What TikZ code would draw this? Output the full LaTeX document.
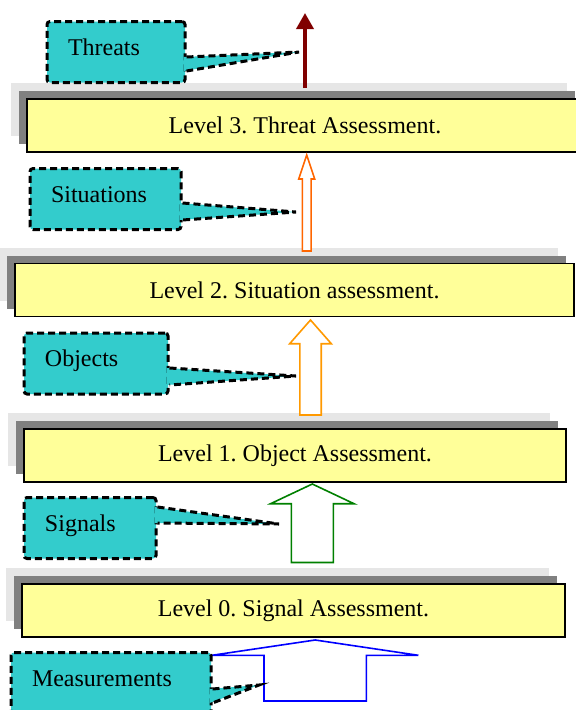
\documentclass[tikz,border=0pt]{standalone}
\usepackage{fontspec}
\setmainfont{Liberation Serif}
\usetikzlibrary{arrows.meta,calc,shadows}
\frenchspacing

\definecolor{barfill}{HTML}{FFFF99}
\definecolor{shadedark}{HTML}{808080}
\definecolor{shadelight}{HTML}{E6E6E6}
\definecolor{callfill}{HTML}{33CCCC}
\definecolor{darkred}{HTML}{800000}
\definecolor{redorange}{HTML}{FF6600}
\definecolor{orange}{HTML}{FF9900}
\definecolor{darkgreen}{HTML}{008000}

\tikzset{
  levelbox/.style={draw, line width=1.5pt, fill=barfill, inner sep=0pt,
    minimum height=53pt, font=\fontsize{24}{28}\selectfont,
    general shadow={fill=shadelight, shadow xshift=-16pt, shadow yshift=16pt},
    general shadow={fill=shadedark, shadow xshift=-8pt, shadow yshift=8pt}},
  callbox/.style={draw, fill=callfill, line width=3pt, dash pattern=on 7pt off 4pt,
    rounded corners=3pt, align=left, inner xsep=21pt, inner ysep=0pt,
    minimum height=61pt, text height=17pt, text depth=11pt,
    font=\fontsize{24}{28}\selectfont},
  callline/.style={line width=3pt, dash pattern=on 7pt off 4pt},
  hollow/.style={line width=1.6pt, fill=white}
}

% #1 colour, #2 tail, #3 tip, #4 half shaft, #5 half head, #6 head length
\newcommand\blockarrow[6]{%
  \draw[hollow,draw=#1] let \p1=(#2), \p2=(#3) in
    (\x1-#4,\y1) -- (\x1-#4,\y2-#6) -- (\x1-#5,\y2-#6) -- (\x2,\y2)
    -- (\x1+#5,\y2-#6) -- (\x1+#4,\y2-#6) -- (\x1+#4,\y1) -- cycle;}

\begin{document}
\begin{tikzpicture}[x=1pt,y=-1pt]
\useasboundingbox (0,0) rectangle (576,710);
\clip (0,0) rectangle (576,710);

% levels
\node[levelbox, minimum width=556pt] (lvl3) at (305,125.5) {Level 3. Threat Assessment.};
\node[levelbox, minimum width=559pt] (lvl2) at (294.5,290) {Level 2. Situation assessment.};
\node[levelbox, minimum width=542pt] (lvl1) at (295,455.5) {Level 1. Object Assessment.};
\node[levelbox, minimum width=543pt] (lvl0) at (293.5,610.5) {Level 0. Signal Assessment.};

% arrows between levels
\coordinate (tail4) at (305,88);  \coordinate (tip4) at (305,13);
\coordinate (tail3) at (306.7,251); \coordinate (tip3) at (306.7,155);
\coordinate (tail2) at (310.5,415); \coordinate (tip2) at (310.5,320);
\coordinate (tail1) at (312.3,562.5); \coordinate (tip1) at (312.3,484);
\coordinate (tail0) at (315.2,701); \coordinate (tip0) at (315.2,640);
\draw[darkred, line width=3.5pt, -{Triangle[length=16pt,width=17pt]}] (tail4) -- (tip4);
\blockarrow{redorange}{tail3}{tip3}{4.4pt}{8pt}{24pt}
\blockarrow{orange}{tail2}{tip2}{10.7pt}{20.8pt}{23.7pt}
\blockarrow{darkgreen}{tail1}{tip1}{21pt}{41.7pt}{19.7pt}
\blockarrow{blue}{tail0}{tip0}{51.2pt}{103.2pt}{15.3pt}

% callouts
\node[callbox, text width=96pt] (threats) at (116,52) {Threats};
\node[callbox, text width=109pt] (situations) at (105.5,199) {Situations};
\node[callbox, text width=102pt] (objects) at (96,363.5) {Objects};
\node[callbox, text width=90pt] (signals) at (90,528) {Signals};
\node[callbox, text width=158pt] (measurements) at (111,683) {Measurements};
\coordinate (threatsTip) at (299,52);
\coordinate (situationsTip) at (296,212);
\coordinate (objectsTip) at (296,376);
\coordinate (signalsTip) at (279,524);
\coordinate (measurementsTip) at (259,685);
\foreach \n/\a/\b in {threats/-5/-19, situations/-4/-21, objects/-4.5/-21.5,
                      signals/21/5, measurements/-6/-20} {
  \fill[callfill] ([xshift=-3pt,yshift=\a pt]\n.east) -- (\n Tip)
    -- ([xshift=-3pt,yshift=\b pt]\n.east) -- cycle;
  \draw[callline] ([yshift=\a pt]\n.east) -- (\n Tip) -- ([yshift=\b pt]\n.east);
}
\end{tikzpicture}
\end{document}
